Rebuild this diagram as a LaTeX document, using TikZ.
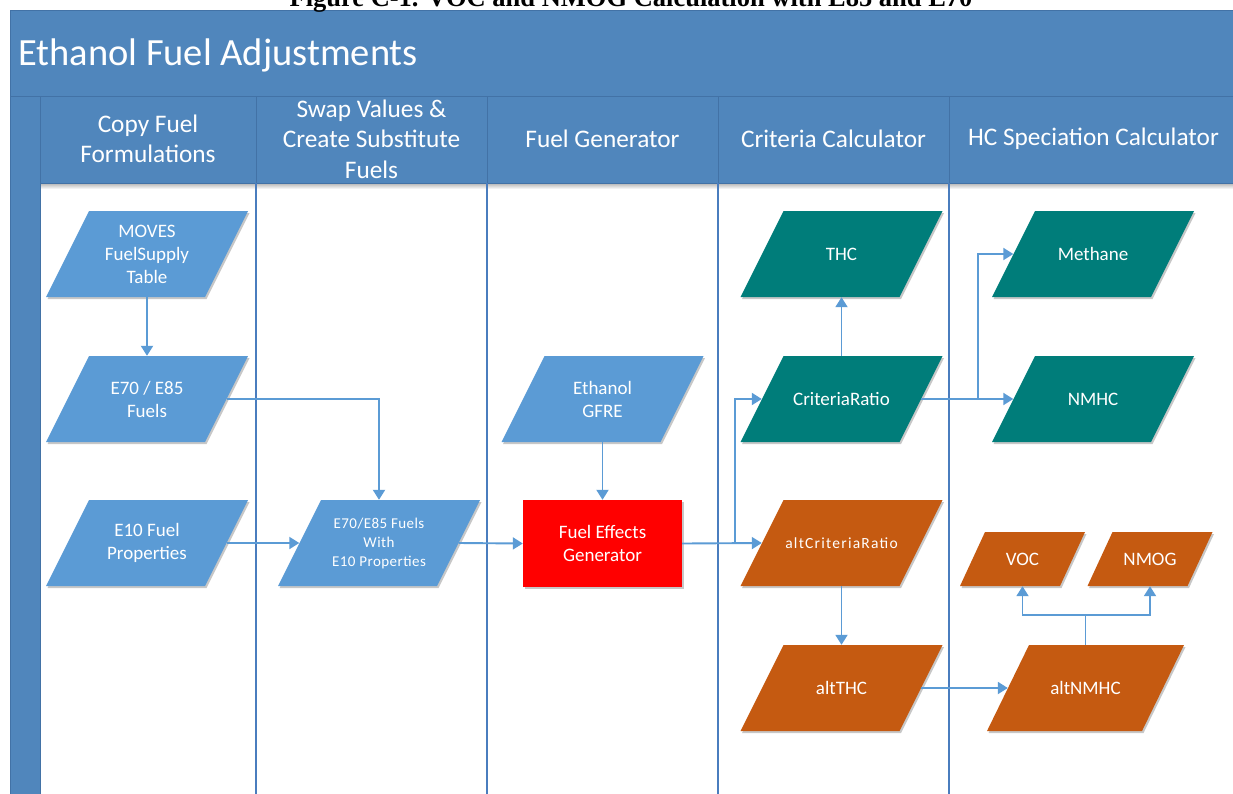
\documentclass[tikz,border=0pt]{standalone}
\usepackage{fontspec}
\setmainfont{Carlito}
\newfontfamily\capfont{Liberation Serif}
\usetikzlibrary{arrows.meta,shadows,calc}
\pgfdeclarelayer{back}
\pgfdeclarelayer{mid}
\pgfsetlayers{back,mid,main}
\definecolor{poolblue}{RGB}{80,134,188}
\definecolor{hdrborder}{RGB}{66,114,166}
\definecolor{laneblue}{RGB}{74,125,190}
\definecolor{arrowblue}{RGB}{91,155,213}
\definecolor{nodeblue}{RGB}{91,155,213}
\definecolor{nodeteal}{RGB}{0,125,122}
\definecolor{nodeorange}{RGB}{197,90,17}
\definecolor{nodered}{RGB}{255,0,0}
\tikzset{
  conn/.style={draw=arrowblue, line width=1.9pt, -{Triangle[width=12pt,length=10pt]}},
  plainline/.style={draw=arrowblue, line width=1.9pt},
  txt/.style={text=white, align=center, inner sep=0pt, font=\fontsize{19}{23}\selectfont},
  smalltxt/.style={text=white, align=center, inner sep=0pt, font=\fontsize{15}{19}\selectfont\addfontfeatures{LetterSpace=3}},
  spacedtxt/.style={text=white, align=center, inner sep=0pt, font=\fontsize{15.5}{19}\selectfont\addfontfeatures{LetterSpace=8}},
  hdr/.style={text=white, align=center, inner sep=0pt, font=\fontsize{25.3}{30.5}\selectfont},
  hdrline/.style={draw=hdrborder, line width=1pt},
  laneline/.style={draw=laneblue, line width=1.5pt},
  nodeshadow/.style={drop shadow={shadow xshift=1.5pt, shadow yshift=-2pt, opacity=0.22, fill=black}}
}
% name, cx, cy, w, h, slant, colour, text style, text
\newcommand\paranode[9]{%
  \begin{pgfonlayer}{mid}
  \fill[#7, nodeshadow] ({#2-#4/2+#6/2},{#3-#5/2}) -- ({#2+#4/2+#6/2},{#3-#5/2})
     -- ({#2+#4/2-#6/2},{#3+#5/2}) -- ({#2-#4/2-#6/2},{#3+#5/2}) -- cycle;
  \end{pgfonlayer}
  \node[#8, minimum width=#4pt, minimum height=#5pt] (#1) at (#2,#3) {#9};
}
\begin{document}
\begin{tikzpicture}[x=1pt,y=-1pt]
\useasboundingbox (0,0) rectangle (1233,793);
\begin{pgfonlayer}{back}
  \fill[white] (0,0) rectangle (1233,793);
  \fill[poolblue] (10,10) rectangle (1240,183);
  \fill[poolblue] (10,96) rectangle (40,800);
  \shade[top color=black!30, bottom color=white] (41,183) rectangle (1240,189);
  \draw[hdrline] (10,10) rectangle (1240,800);
  \draw[hdrline] (10,96) -- (1240,96);
  \draw[hdrline] (40,183) -- (1240,183);
  \draw[hdrline] (40,96) -- (40,800);
  \foreach \x in {256,487,718,949} {
    \draw[hdrline] (\x,96) -- (\x,183);
    \draw[laneline] (\x,183) -- (\x,800);
  }
\end{pgfonlayer}

\node[anchor=base, inner sep=0pt, font=\capfont\bfseries\fontsize{26.5}{30}\selectfont] (caption) at (631,6) {Figure C-1. VOC and NMOG Calculation with E85 and E70};
\node[anchor=base west, inner sep=0pt, text=white, font=\fontsize{38.5}{44}\selectfont] (title) at (18,65) {Ethanol Fuel Adjustments};

\node[hdr] (h1) at (148,139) {Copy Fuel\\Formulations};
\node[hdr] (h2) at (371.5,139) {Swap Values \&\\Create Substitute\\Fuels};
\node[hdr] (h3) at (602.5,139) {Fuel Generator};
\node[hdr] (h4) at (833.5,139) {Criteria Calculator};
\node[hdr] (h5) at (1093.5,139) {HC Speciation Calculator};

\paranode{moves}{147}{254}{159}{86}{43}{nodeblue}{txt}{MOVES\\FuelSupply\\Table}
\paranode{e70}{147}{399}{159}{86}{43}{nodeblue}{txt}{E70 / E85\\Fuels}
\paranode{e10}{147}{543}{159}{86}{43}{nodeblue}{txt}{E10 Fuel\\Properties}
\paranode{sub}{379}{543}{159}{86}{43}{nodeblue}{smalltxt}{E70/E85 Fuels\\With\\E10 Properties}
\paranode{gfre}{602.5}{399}{159}{86}{43}{nodeblue}{txt}{Ethanol\\GFRE}
\begin{pgfonlayer}{mid}
\fill[nodered, nodeshadow] (523,500) rectangle (682,587);
\end{pgfonlayer}
\node[txt, minimum width=159pt, minimum height=87pt] (feg) at (602.5,543.5) {Fuel Effects\\Generator};
\paranode{thc}{841.5}{254}{159}{86}{43}{nodeteal}{txt}{THC}
\paranode{cr}{841.5}{399}{159}{86}{43}{nodeteal}{txt}{CriteriaRatio}
\paranode{altcr}{841.5}{543}{159}{86}{43}{nodeorange}{spacedtxt}{altCriteriaRatio}
\paranode{altthc}{841.5}{688}{159}{86}{43}{nodeorange}{txt}{altTHC}
\paranode{methane}{1093}{254}{159}{86}{43}{nodeteal}{txt}{Methane}
\paranode{nmhc}{1093}{399}{159}{86}{43}{nodeteal}{txt}{NMHC}
\paranode{voc}{1022.5}{559}{100}{54}{25}{nodeorange}{txt}{VOC}
\paranode{nmog}{1150}{559}{100}{54}{25}{nodeorange}{txt}{NMOG}
\paranode{altnmhc}{1085.5}{688}{155}{86}{42}{nodeorange}{txt}{altNMHC}

\draw[conn] (moves.south) -- (e70.north);
\draw[conn] (e70.east) -| (sub.north);
\draw[conn] (e10.east) -- (sub.west);
\draw[conn] (sub.east) -- (feg.west);
\draw[conn] (gfre.south) -- (feg.north);
\draw[conn] (feg.east) -- (altcr.west);
\draw[conn] (feg.east) -| ([xshift=-27pt]cr.west) -- (cr.west);
\draw[conn] (cr.north) -- (thc.south);
\draw[conn] (cr.east) -- (nmhc.west);
\draw[conn] ([xshift=-35.5pt]nmhc.west) |- (methane.west);
\draw[conn] (altcr.south) -- (altthc.north);
\draw[conn] (altthc.east) -- (altnmhc.west);
\draw[plainline] (altnmhc.north) -- ++(0,-30) coordinate (split);
\draw[conn] (split) -| (voc.south);
\draw[conn] (split) -| (nmog.south);
\end{tikzpicture}
\end{document}
